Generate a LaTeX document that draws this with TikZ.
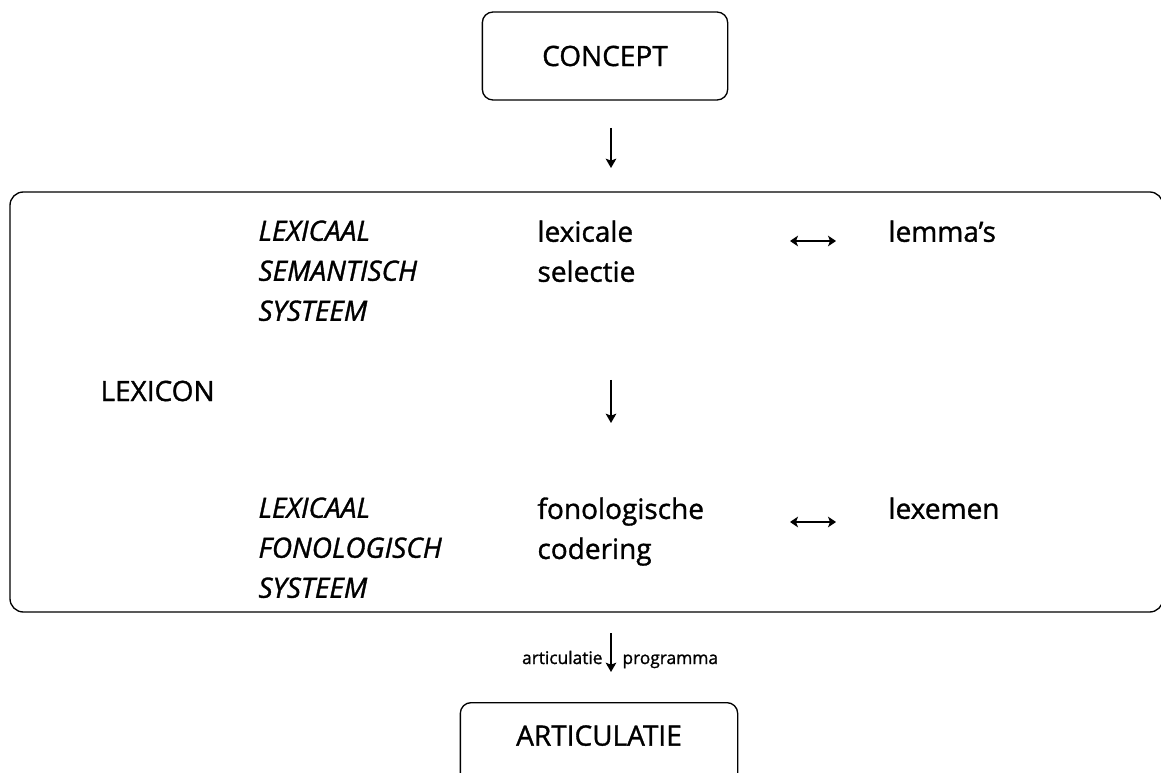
\documentclass[tikz,border=0pt]{standalone}
\usepackage{fontspec}
\setmainfont[FakeBold=1.2]{Open Sans}
\usetikzlibrary{arrows.meta}
\tikzset{every picture/.style={line width=0.75pt}}
\tikzset{
kader/.style={draw, rounded corners=8pt, line width=1pt},
tekst/.style={font=\fontsize{21}{30}\selectfont, anchor=north west, inner sep=0pt, align=left},
schuin/.style={tekst, font=\fontsize{21}{30}\selectfont\itshape},
klein/.style={font=\fontsize{13}{15}\selectfont, inner sep=0pt},
pijl/.style={-{Stealth[length=7pt,width=8pt,inset=1.5pt]}, line width=1.1pt},
dubbel/.style={{Stealth[length=6pt,width=8pt,inset=1.5pt]}-{Stealth[length=6pt,width=8pt,inset=1.5pt]}, line width=1.1pt}}

\begin{document}
\begin{tikzpicture}[x=0.75pt,y=0.75pt,yscale=-1,xscale=1]
\clip (0,0) rectangle (1161,773);

%Concept box
\node[kader, minimum width=184pt, minimum height=66pt, font=\fontsize{21}{24}\selectfont] (concept) at (605,56) {CONCEPT};
\coordinate (c1) at (611,128);
\coordinate (c2) at (611,168);
\draw[pijl] (c1) -- (c2);

%Lexicon frame
\draw[line width=1pt, rounded corners=10pt] (10,192) rectangle (1163,612);
\node[tekst, anchor=west] (lexicon) at (100,391) {LEXICON};

%upper row
\node[schuin] (lss) at (258,220) {LEXICAAL\\SEMANTISCH\\SYSTEEM};
\node[tekst] (selectie) at (537,220) {lexicale\\selectie};
\node[tekst] (lemmas) at (888,220) {lemma's};
\coordinate (l1) at (790,241);
\coordinate (l2) at (836,241);
\draw[dubbel] (l1) -- (l2);

%middle arrow
\coordinate (m1) at (611,380);
\coordinate (m2) at (611,423);
\draw[pijl] (m1) -- (m2);

%lower row
\node[schuin] (lfs) at (258,497) {LEXICAAL\\FONOLOGISCH\\SYSTEEM};
\node[tekst] (codering) at (537,497) {fonologische\\codering};
\node[tekst] (lexemen) at (888,497) {lexemen};
\coordinate (f1) at (790,522);
\coordinate (f2) at (836,522);
\draw[dubbel] (f1) -- (f2);

%articulatie
\coordinate (a1) at (611,633);
\coordinate (a2) at (611,672);
\draw[pijl] (a1) -- (a2);
\node[klein, anchor=base east] (artic) at (603,664) {articulatie};
\node[klein, anchor=base west] (progr) at (622,664) {programma};
\node[kader, anchor=north, minimum width=208pt, inner ysep=17pt, text depth=40pt, font=\fontsize{21}{24}\selectfont] (articulatie) at (599,702) {ARTICULATIE};

\end{tikzpicture}
\end{document}
